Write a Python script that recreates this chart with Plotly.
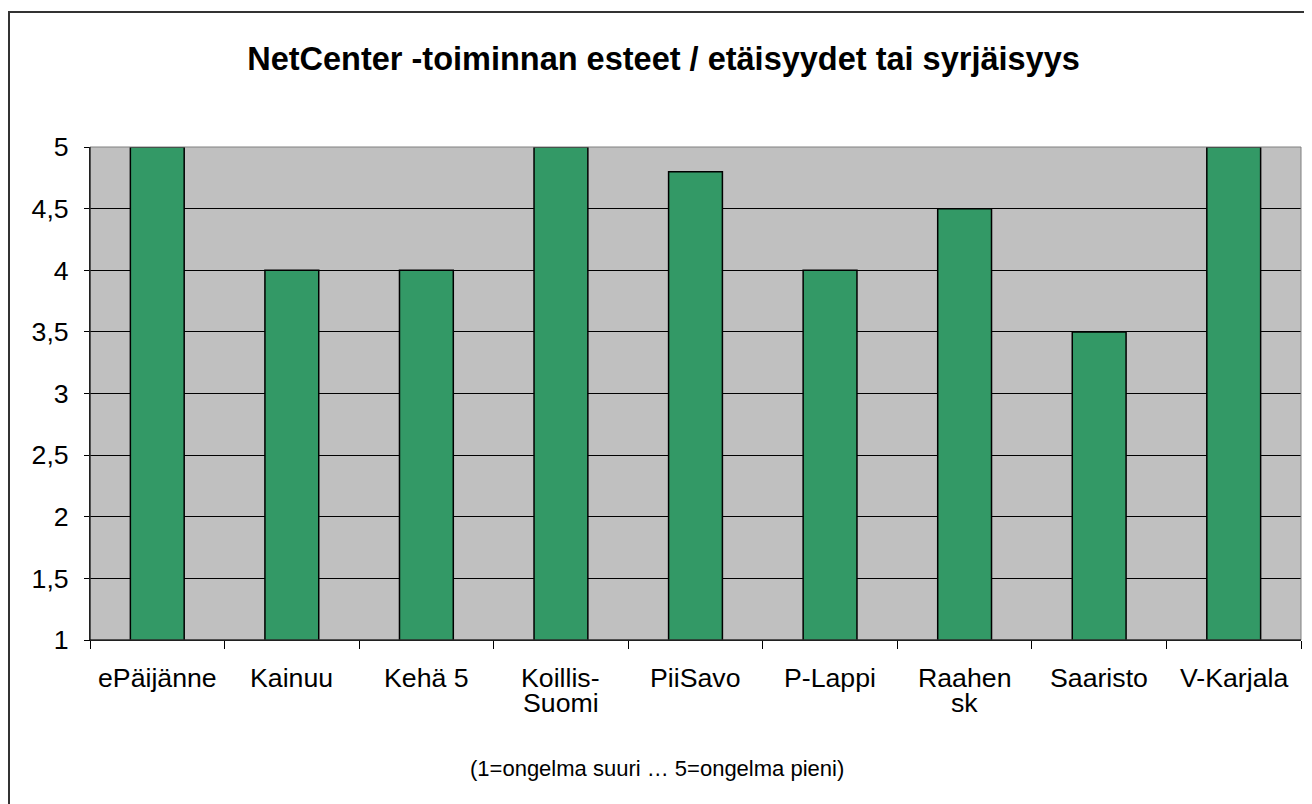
import plotly.graph_objects as go

categories = ["ePäijänne", "Kainuu", "Kehä 5", "Koillis-<br>Suomi", "PiiSavo",
              "P-Lappi", "Raahen<br>sk", "Saaristo", "V-Karjala"]
values = [5, 4, 4, 5, 4.8, 4, 4.5, 3.5, 5]
y_ticks = [1, 1.5, 2, 2.5, 3, 3.5, 4, 4.5, 5]
y_tick_text = ["1", "1,5", "2", "2,5", "3", "3,5", "4", "4,5", "5"]

FONT = "Liberation Sans, Arial, sans-serif"
W, H = 1312, 804
OFF = 8  # page body margin offset in the browser
# target plot area on screen: x 90..1301, y 147..640
SL, SR, ST, SB = 90, 1301, 147, 640
pw, ph = SR - SL, SB - ST
L, T = SL - OFF, ST - OFF
R = W - L - pw
B = H - T - ph

def px_x(p):
    return (p - SL) / pw

def px_y(p):
    return (SB - p) / ph

fig = go.Figure(go.Bar(
    x=categories, y=values,
    marker=dict(color="#339966", line=dict(color="black", width=1.5)),
))

annotations = [
    dict(text="(1=ongelma suuri … 5=ongelma pieni)", xref="paper", yref="paper",
         x=px_x(656.5), y=px_y(768), xanchor="center", yanchor="middle",
         showarrow=False, font=dict(family=FONT, size=22, color="black")),
]
for cat in categories:
    for i, line in enumerate(cat.split("<br>")):
        annotations.append(dict(
            text=line, x=cat, xref="x", yref="paper", y=px_y(678 + i * 25),
            xanchor="center", yanchor="middle", showarrow=False,
            font=dict(family=FONT, size=26.7, color="black")))

fig.update_layout(
    width=W, height=H,
    margin=dict(l=L, r=R, t=T, b=B),
    paper_bgcolor="white", plot_bgcolor="#C0C0C0",
    bargap=0.6,
    showlegend=False,
    font=dict(family=FONT, size=26.7, color="black"),
    title=dict(text="<b>NetCenter -toiminnan esteet / etäisyydet tai syrjäisyys</b>",
               x=(663.5 - OFF) / W, xref="container", xanchor="center",
               y=1 - (58.5 - OFF) / H, yref="container", yanchor="middle",
               font=dict(family=FONT, size=32.5, color="black")),
    xaxis=dict(type="category", showgrid=False, ticks="outside", tickson="boundaries",
               ticklen=8, tickcolor="black", showline=True, linecolor="black", linewidth=1,
               showticklabels=False, fixedrange=True),
    yaxis=dict(range=[1, 5], tickvals=y_ticks, ticktext=y_tick_text,
               showgrid=True, gridcolor="black", gridwidth=1,
               ticks="outside", ticklen=5, tickcolor="black",
               showline=True, linecolor="black", linewidth=1, zeroline=False,
               tickfont=dict(family=FONT, size=26.7), ticklabelstandoff=10, fixedrange=True),
    shapes=[
        dict(type="rect", xref="paper", yref="paper", x0=0, x1=1, y0=0, y1=1,
             line=dict(color="#808080", width=1), fillcolor="rgba(0,0,0,0)", layer="above"),
        dict(type="line", xref="paper", yref="paper", x0=0, x1=0, y0=0, y1=1,
             line=dict(color="black", width=1), layer="above"),
        dict(type="line", xref="paper", yref="paper", x0=0, x1=1, y0=0, y1=0,
             line=dict(color="black", width=1), layer="above"),
        dict(type="rect", xref="paper", yref="paper",
             x0=px_x(9), x1=px_x(W + 40), y0=px_y(H + 40), y1=px_y(12),
             line=dict(color="#333333", width=2), fillcolor="rgba(0,0,0,0)"),
    ],
    annotations=annotations,
)

fig.write_html("out.html")
